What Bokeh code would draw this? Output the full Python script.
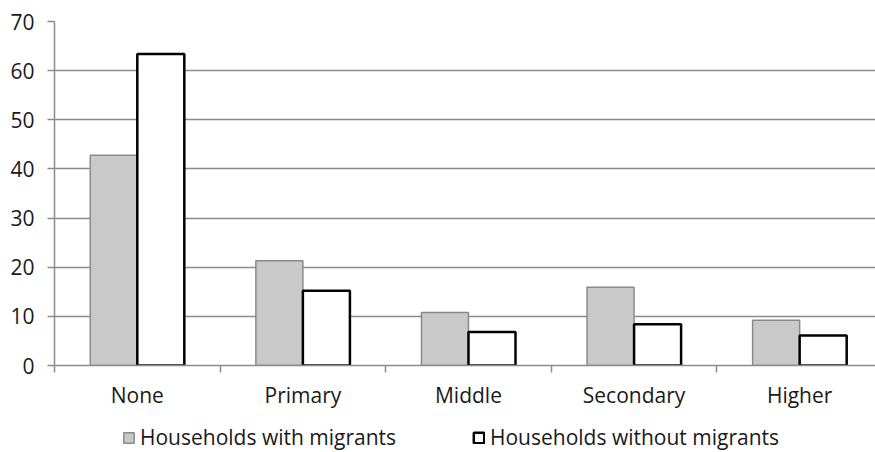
from bokeh.plotting import figure
from bokeh.layouts import column
from bokeh.models import Range1d, FixedTicker, Legend, LegendItem, ColumnDataSource
from bokeh.embed import file_html
from bokeh.resources import INLINE

# Education level of household head, share (%) by migrant status
categories = ["None", "Primary", "Middle", "Secondary", "Higher"]
with_migrants = [42.8, 21.3, 10.8, 15.9, 9.2]
without_migrants = [63.4, 15.2, 6.8, 8.4, 6.1]
series_names = ["Households with migrants", "Households without migrants"]
y_ticks = [0, 10, 20, 30, 40, 50, 60, 70]

FONT = "Open Sans"
FONT_SIZE = "21px"
TEXT_COLOR = "#1a1a1a"
GRID_COLOR = "#8c8c8c"
BAR_W = 0.284

STYLE_WITH = dict(fill_color="#c9c9c9", line_color="#8a8a8a", line_width=1.5)
STYLE_WITHOUT = dict(fill_color="white", line_color="black", line_width=2.5)

centers = [i + 0.5 for i in range(len(categories))]
src = ColumnDataSource(dict(
    x_with=[c - BAR_W / 2 for c in centers],
    x_without=[c + BAR_W / 2 for c in centers],
    with_m=with_migrants,
    without_m=without_migrants,
))

p = figure(frame_width=821, frame_height=344, output_backend="svg", toolbar_location=None,
           x_range=Range1d(0, 4.958), y_range=Range1d(0, 70),
           min_border_left=54, min_border_right=0, min_border_top=21,
           min_border_bottom=0)
p.outline_line_color = None

p.vbar(x="x_with", top="with_m", width=BAR_W, source=src, **STYLE_WITH)
p.vbar(x="x_without", top="without_m", width=BAR_W, source=src, **STYLE_WITHOUT)

# horizontal gridlines behind the bars
p.xgrid.grid_line_color = None
p.ygrid.grid_line_color = GRID_COLOR
p.ygrid.grid_line_width = 1.5
p.ygrid.ticker = FixedTicker(ticks=y_ticks)
p.ygrid.level = "underlay"

# y axis
p.yaxis.ticker = FixedTicker(ticks=y_ticks)
p.yaxis.axis_line_color = GRID_COLOR
p.yaxis.axis_line_width = 1.5
p.yaxis.major_tick_line_color = GRID_COLOR
p.yaxis.major_tick_line_width = 1.5
p.yaxis.major_tick_in = 0
p.yaxis.major_tick_out = 7
p.yaxis.minor_tick_line_color = None
p.yaxis.major_label_text_font = FONT
p.yaxis.major_label_text_font_size = FONT_SIZE
p.yaxis.major_label_text_color = TEXT_COLOR
p.yaxis.major_label_standoff = 13

# x axis: labels at category centres, ticks at category boundaries
p.xaxis.ticker = FixedTicker(ticks=centers, minor_ticks=list(range(len(categories) + 1)))
p.xaxis.major_label_overrides = {c: name for c, name in zip(centers, categories)}
p.xaxis.axis_line_color = GRID_COLOR
p.xaxis.axis_line_width = 1.5
p.xaxis.major_tick_line_color = None
p.xaxis.major_tick_out = 0
p.xaxis.major_tick_in = 0
p.xaxis.minor_tick_line_color = GRID_COLOR
p.xaxis.minor_tick_line_width = 1.5
p.xaxis.minor_tick_in = 0
p.xaxis.minor_tick_out = 7
p.xaxis.major_label_text_font = FONT
p.xaxis.major_label_text_font_size = FONT_SIZE
p.xaxis.major_label_text_color = TEXT_COLOR
p.xaxis.major_label_standoff = 8

# legend strip under the chart (its frame is aligned with the chart's frame)
leg = figure(width=875, height=40, output_backend="svg", toolbar_location=None,
             x_axis_type=None, y_axis_type=None,
             x_range=Range1d(0, 1), y_range=Range1d(0, 1),
             min_border=0)
leg.outline_line_color = None
leg.grid.visible = False
k1 = leg.vbar(x="x_with", top="with_m", width=BAR_W, source=src, visible=False, **STYLE_WITH)
k2 = leg.vbar(x="x_without", top="without_m", width=BAR_W, source=src, visible=False, **STYLE_WITHOUT)

for renderer, name, x0 in [(k1, series_names[0], 68), (k2, series_names[1], 418)]:
    lg = Legend(items=[LegendItem(label=name, renderers=[renderer])], location=(x0, 0))
    lg.label_text_font = FONT
    lg.label_text_font_size = FONT_SIZE
    lg.label_text_color = TEXT_COLOR
    lg.glyph_width = 13
    lg.glyph_height = 13
    lg.label_standoff = 5
    lg.label_height = 16
    lg.padding = 0
    lg.margin = 0
    lg.inactive_fill_alpha = 0
    lg.border_line_color = None
    lg.background_fill_alpha = 0
    leg.add_layout(lg, "center")

layout = column(p, leg, spacing=0)
open("out.html", "w").write(file_html(layout, INLINE))
